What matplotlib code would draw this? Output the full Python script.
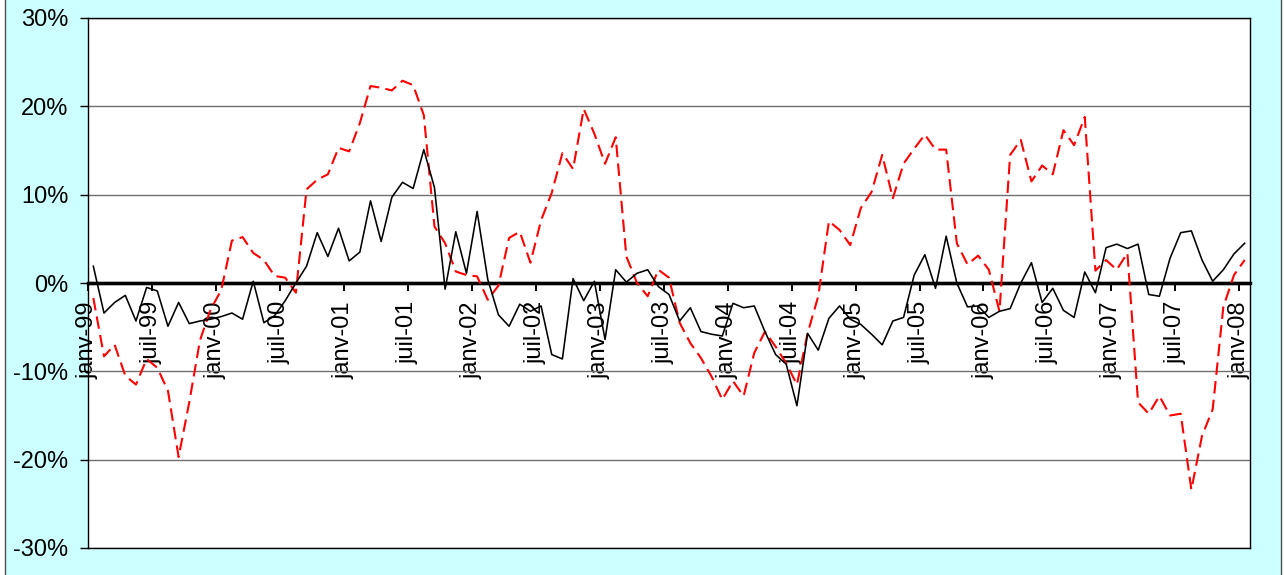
import numpy as np
import matplotlib
matplotlib.use("Agg")
import matplotlib.pyplot as plt
from matplotlib.patches import Rectangle

plt.rcParams["font.family"] = ["Liberation Sans", "DejaVu Sans"]

# monthly series, janv-99 .. janv-08 (109 months), values in %
black_series = [
    1.9, -3.4, -2.2, -1.4, -4.3, -0.5, -0.9, -4.9, -2.2, -4.6, -4.3, -4.1,
    -3.8, -3.4, -4.1, 0.2, -4.5, -3.7, -2.0, 0.0, 1.9, 5.7, 3.0, 6.2,
    2.5, 3.5, 9.3, 4.7, 9.7, 11.4, 10.7, 15.1, 10.8, -0.7, 5.8, 1.1,
    8.1, 0.4, -3.6, -4.9, -2.4, -3.2, -2.6, -8.1, -8.6, 0.5, -2.0, 0.2,
    -6.4, 1.5, 0.1, 1.1, 1.5, -0.4, -1.3, -4.3, -2.8, -5.5, -5.8, -6.0,
    -2.3, -2.8, -2.6, -5.5, -8.1, -9.2, -13.9, -5.7, -7.6, -4.0, -2.6, -4.1,
    -4.7, -5.8, -7.0, -4.3, -3.9, 0.9, 3.2, -0.6, 5.3, 0.0, -2.7, -2.6,
    -3.9, -3.2, -2.9, 0.0, 2.3, -2.2, -0.6, -3.1, -3.9, 1.25, -1.1, 4.0,
    4.4, 3.9, 4.4, -1.3, -1.5, 2.8, 5.7, 5.9, 2.6, 0.2, 1.5, 3.3,
    4.5,
]
red_series = [
    -1.7, -8.3, -7.0, -10.5, -11.5, -8.6, -9.6, -12.2, -19.7, -13.5, -6.5, -3.0,
    -0.8, 4.8, 5.2, 3.4, 2.6, 0.8, 0.6, -1.1, 10.6, 11.7, 12.3, 15.3,
    14.9, 18.1, 22.3, 22.1, 21.8, 22.9, 22.4, 19.0, 6.4, 4.5, 1.3, 0.9,
    0.75, -1.9, -0.3, 5.1, 5.8, 2.3, 7.1, 10.2, 14.7, 12.9, 19.7, 16.9,
    13.5, 16.5, 3.0, 0.0, -1.5, 1.5, 0.6, -4.5, -6.8, -8.5, -10.6, -13.2,
    -11.1, -12.8, -7.9, -5.5, -7.2, -9.1, -11.5, -5.7, -1.5, 7.0, 6.0, 4.3,
    8.5, 10.3, 14.5, 9.6, 13.5, 15.2, 16.8, 15.1, 15.1, 4.5, 2.1, 3.1,
    1.5, -3.2, 14.5, 16.2, 11.5, 13.3, 12.3, 17.3, 15.6, 18.8, 1.4, 2.6,
    1.5, 3.4, -13.5, -14.8, -12.8, -15.0, -14.8, -23.4, -17.3, -14.3, -2.7, 0.9,
    2.6,
]
month_labels = [
    "janv-99", "juil-99", "janv-00", "juil-00", "janv-01", "juil-01",
    "janv-02", "juil-02", "janv-03", "juil-03", "janv-04", "juil-04",
    "janv-05", "juil-05", "janv-06", "juil-06", "janv-07", "juil-07", "janv-08",
]
y_values = [-30, -20, -10, 0, 10, 20, 30]
y_labels = ["-30%", "-20%", "-10%", "0%", "10%", "20%", "30%"]

x = np.arange(len(black_series))
label_step = 6

fig = plt.figure(figsize=(12.84, 5.75), dpi=100, facecolor="white")
fig.patches.append(Rectangle((5 / 1284, -0.01), 1276 / 1284, 1.02,
                             transform=fig.transFigure, facecolor="#CCFFFF",
                             edgecolor="#505050", linewidth=1, zorder=-1))
ax = fig.add_axes([88 / 1284, 1 - 548 / 575, (1250 - 88) / 1284, (548 - 18) / 575])
ax.set_facecolor("white")

ax.plot(x, red_series, color="#FF0000", lw=1.5, dashes=(6, 3), zorder=3)
ax.plot(x, black_series, color="black", lw=1.15, zorder=4)
ax.axhline(0, color="black", lw=2.4, zorder=2.5)

ax.set_xlim(-0.5, len(x) - 0.5)
ax.set_ylim(y_values[0], y_values[-1])
ax.set_yticks(y_values, y_labels)
ax.tick_params(axis="y", direction="out", length=6, width=1, labelsize=17, pad=8)
ax.tick_params(axis="x", bottom=False, labelbottom=False)
ax.grid(axis="y", color="#707070", lw=1)
for s in ax.spines.values():
    s.set_color("black")
    s.set_linewidth(1)

# category axis drawn on the 0% line
sec = ax.secondary_xaxis(0, transform=ax.transData)
sec.set_xticks(x[::label_step] - 0.5, month_labels)
sec.spines["bottom"].set_linewidth(2.4)
sec.spines["bottom"].set_color("black")
sec.tick_params(direction="out", length=6, width=1.4, labelsize=17,
                labelrotation=90, pad=7)

fig.savefig("out.png", dpi=100, facecolor=fig.get_facecolor())
